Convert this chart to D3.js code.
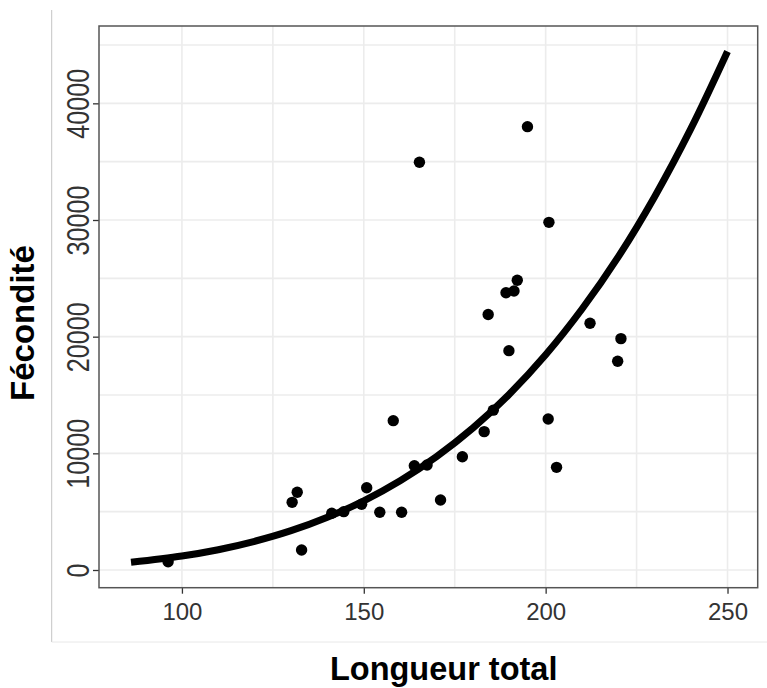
<!DOCTYPE html>
<html>
<head>
<meta charset="utf-8">
<script src="https://cdn.jsdelivr.net/npm/d3@7"></script>
<style>
  html, body { margin: 0; padding: 0; background: #fff; }
  svg { display: block; font-family: "Liberation Sans", Arial, Helvetica, sans-serif; }
</style>
</head>
<body>
<svg id="chart" width="767" height="688"></svg>
<script>
// Observed fish: total length and fecundity
const longueur = [96.2, 130.3, 131.7, 132.9, 141.2, 144.5, 149.4, 150.8, 154.4, 158.1,
                  160.4, 163.9, 165.3, 167.4, 171.1, 177.1, 183.1, 184.2, 185.6, 189.1,
                  189.9, 191.3, 192.2, 195.0, 200.7, 200.9, 203.0, 212.2, 219.8, 220.7];
const fecondite = [700, 5800, 6660, 1710, 4860, 5000, 5630, 7050, 4950, 12800,
                   4950, 8940, 34950, 9000, 6000, 9710, 11860, 21900, 13700, 23770,
                   18800, 23910, 24830, 38000, 12940, 29800, 8800, 21150, 17890, 19830];

// Fitted length–fecundity curve
const courbeX = [86, 100, 110, 120, 130, 140, 150, 160, 170, 180, 190, 200, 210, 220, 230, 240, 250];
const courbeY = [660, 1200, 1740, 2460, 3370, 4520, 5930, 7650, 9720, 12170, 15070, 18450,
                 22370, 26860, 32020, 37870, 44440];

// Axis breaks
const xMajor = [100, 150, 200, 250];
const xMinor = [125, 175, 225];
const yMajor = [0, 10000, 20000, 30000, 40000];
const yMinor = [5000, 15000, 25000, 35000, 45000];

const svg = d3.select("#chart");
const panel = { left: 99, top: 26, right: 757.7, bottom: 587.7 };

const x = d3.scaleLinear().domain([77.2, 258.3]).range([panel.left, panel.right]);
const y = d3.scaleLinear().domain([-1517, 46629]).range([panel.bottom, panel.top]);

// outer frame edges
svg.append("line").attr("x1", 51.7).attr("x2", 51.7).attr("y1", 10).attr("y2", 642)
  .attr("stroke", "#c4c4c4").attr("stroke-width", 1);
svg.append("line").attr("x1", 51.7).attr("x2", 767).attr("y1", 642).attr("y2", 642)
  .attr("stroke", "#e8e8e8").attr("stroke-width", 1);

// grid
const grid = svg.append("g");
grid.selectAll(".gx").data(xMinor.concat(xMajor)).join("line")
  .attr("x1", d => x(d)).attr("x2", d => x(d))
  .attr("y1", panel.top).attr("y2", panel.bottom)
  .attr("stroke", "#ececec").attr("stroke-width", 1.6);
grid.selectAll(".gy").data(yMinor.concat(yMajor)).join("line")
  .attr("x1", panel.left).attr("x2", panel.right)
  .attr("y1", d => y(d)).attr("y2", d => y(d))
  .attr("stroke", "#ececec").attr("stroke-width", 1.6);

// axes
const xAxis = d3.axisBottom(x).tickValues(xMajor).tickSize(6).tickPadding(9).tickFormat(d3.format("d"));
const gx = svg.append("g").attr("transform", `translate(0,${panel.bottom})`).call(xAxis);
gx.select(".domain").remove();
gx.selectAll(".tick line").attr("stroke", "#333").attr("stroke-width", 1.3);
gx.selectAll(".tick text").attr("font-size", 24).attr("fill", "#333")
  .attr("font-family", "Liberation Sans, Arial, sans-serif");

const yAxis = d3.axisLeft(y).tickValues(yMajor).tickSize(6).tickFormat(d3.format("d"));
const gy = svg.append("g").attr("transform", `translate(${panel.left},0)`).call(yAxis);
gy.select(".domain").remove();
gy.selectAll(".tick line").attr("stroke", "#333").attr("stroke-width", 1.3);
gy.selectAll(".tick text")
  .attr("font-size", 24).attr("fill", "#333")
  .attr("font-family", "Liberation Sans, Arial, sans-serif")
  .attr("x", null).attr("dy", null)
  .attr("text-anchor", "middle")
  .attr("transform", "translate(-10,0) rotate(-90) scale(1.05,1.28)");

// fitted curve
const line = d3.line().x(d => x(d[0])).y(d => y(d[1])).curve(d3.curveCatmullRom);
svg.append("path")
  .datum(d3.zip(courbeX, courbeY))
  .attr("d", line)
  .attr("fill", "none")
  .attr("stroke", "#000")
  .attr("stroke-width", 7);

// observations
svg.append("g").selectAll("circle")
  .data(d3.zip(longueur, fecondite))
  .join("circle")
  .attr("cx", d => x(d[0]))
  .attr("cy", d => y(d[1]))
  .attr("r", 5.7)
  .attr("fill", "#000");

// panel border
svg.append("rect")
  .attr("x", panel.left).attr("y", panel.top)
  .attr("width", panel.right - panel.left).attr("height", panel.bottom - panel.top)
  .attr("fill", "none").attr("stroke", "#555").attr("stroke-width", 1.5);

// axis titles
svg.append("text")
  .attr("x", 443.7).attr("y", 680)
  .attr("text-anchor", "middle")
  .attr("font-size", 32.5).attr("font-weight", "bold").attr("fill", "#000")
  .text("Longueur total");
svg.append("text")
  .attr("transform", "translate(33.5,323) rotate(-90)")
  .attr("text-anchor", "middle")
  .attr("font-size", 33).attr("font-weight", "bold").attr("fill", "#000")
  .text("Fécondité");
</script>
</body>
</html>
